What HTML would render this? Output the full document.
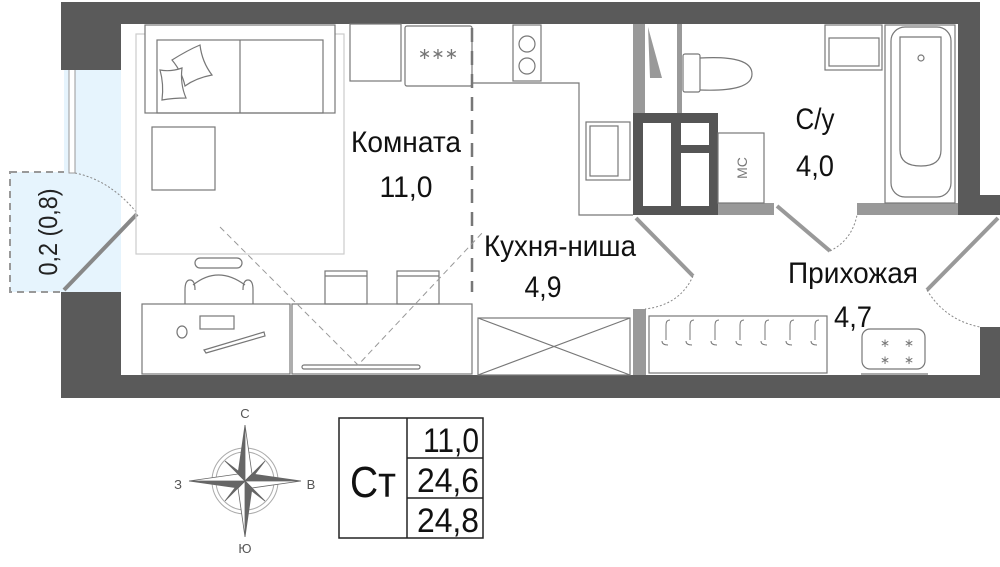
<!DOCTYPE html>
<html><head><meta charset="utf-8"><style>
html,body{margin:0;padding:0;background:#fff;width:1000px;height:567px;overflow:hidden}
svg{display:block}
text{font-family:"Liberation Sans",sans-serif;fill:#111}
</style></head><body>
<svg width="1000" height="567" viewBox="0 0 1000 567" xmlns="http://www.w3.org/2000/svg">
<!-- balcony -->
<rect x="10" y="172" width="55" height="120" fill="#e6f4fd" stroke="#999" stroke-width="2" stroke-dasharray="7,5"/>
<rect x="64" y="66" width="57" height="226" fill="#e6f4fd"/>
<rect x="69" y="63" width="6" height="110" fill="#fff" stroke="#999" stroke-width="1"/>
<path d="M75 173 Q110 180 137 213" fill="none" stroke="#888" stroke-width="1" stroke-dasharray="2,2"/>
<line x1="64" y1="290" x2="137" y2="214" stroke="#888" stroke-width="4"/>
<text transform="translate(57,232) rotate(-90)" text-anchor="middle" font-size="26" textLength="87" lengthAdjust="spacingAndGlyphs" style="fill:#222">0,2 (0,8)</text>

<!-- outer walls -->
<g fill="#5a5a5a">
<rect x="61" y="2" width="919" height="22"/>
<rect x="61" y="2" width="60" height="68"/>
<rect x="61" y="292" width="60" height="106"/>
<rect x="61" y="375" width="939" height="23"/>
<rect x="958" y="2" width="22" height="213"/>
<rect x="958" y="195" width="42" height="20"/>
<rect x="980" y="327" width="20" height="71"/>
</g>

<!-- interior walls -->
<rect x="633" y="24" width="12" height="92" fill="#999"/>
<rect x="677" y="24" width="5" height="90" fill="#999"/>
<path d="M648 27 L662 78 L650 78 Z" fill="#999"/>
<rect x="633" y="113" width="85" height="102" fill="#555"/>
<g fill="#fff"><rect x="643" y="123" width="28" height="71"/><rect x="681" y="123" width="28" height="22"/><rect x="681" y="153" width="28" height="53"/><rect x="643" y="190" width="28" height="16"/></g>
<rect x="718" y="203" width="56" height="12" fill="#999"/>
<rect x="857" y="203" width="101" height="12" fill="#999"/>
<rect x="633" y="309" width="13" height="66" fill="#999"/>
<line x1="636" y1="218" x2="693" y2="276" stroke="#999" stroke-width="4"/>
<line x1="777" y1="206" x2="830" y2="251" stroke="#999" stroke-width="4"/>
<line x1="927" y1="290" x2="998" y2="218" stroke="#999" stroke-width="4"/>
<g fill="none" stroke="#888" stroke-width="1" stroke-dasharray="2,2">
<path d="M693 276 Q680 305 645 309"/>
<path d="M830 251 Q852 240 857 215"/>
<path d="M927 290 Q945 320 980 327"/>
</g>

<!-- dashed divider -->
<line x1="472" y1="28" x2="472" y2="292" stroke="#777" stroke-width="2.5" stroke-dasharray="14,9"/>

<g fill="none" stroke="#777" stroke-width="1.2">
<rect x="136" y="34" width="208" height="220" stroke="#ccc"/>
<rect x="145" y="25" width="190" height="88" fill="#fff"/>
<rect x="157" y="40" width="166" height="73"/>
<line x1="240" y1="40" x2="240" y2="113"/>
<path d="M172 60 Q188 50 200 45 Q202 62 212 75 Q196 78 185 86 Q182 72 172 60 Z" fill="#fff"/>
<path d="M160 70 Q171 72 182 68 Q180 84 186 98 Q173 98 162 100 Q164 84 160 70 Z" fill="#fff"/>
<rect x="152" y="127" width="63" height="63"/>
<rect x="350" y="24" width="51" height="57"/>
<rect x="405" y="26" width="67" height="60" rx="2"/>
<rect x="513" y="25" width="28" height="56"/>
<circle cx="527" cy="44" r="8"/><circle cx="527" cy="66" r="8"/>
<path d="M473 83 H579 V215 H633"/>
<rect x="586" y="122" width="44" height="58"/>
<rect x="590" y="126" width="28" height="50"/>
<rect x="142" y="304" width="148" height="70"/>
<rect x="292" y="304" width="180" height="70"/>
<rect x="200" y="316" width="34" height="13"/>
<path d="M204 350 L264 332 L265 336 L206 353 Z"/>
<ellipse cx="182" cy="332" rx="5" ry="6"/>
<rect x="195" y="258" width="47" height="10" rx="5"/>
<path d="M185 304 V290 Q185 280 190 280 Q195 280 195 290 M193 285 Q218 265 245 285 M243 290 Q243 280 248 280 Q253 280 253 290 V304"/>
<rect x="325" y="271" width="42" height="33"/><line x1="325" y1="276" x2="367" y2="276"/>
<rect x="397" y="271" width="42" height="33"/><line x1="397" y1="276" x2="439" y2="276"/>
<rect x="302" y="365" width="118" height="4" rx="2"/>
<rect x="478" y="318" width="152" height="57"/>
<path d="M478 318 L630 375 M630 318 L478 375"/>
<rect x="649" y="316" width="178" height="57"/>
<rect x="683" y="54" width="17" height="38" rx="2"/>
<path d="M700 58 Q752 55 752 74 Q752 92 700 90"/>
<rect x="825" y="25" width="57" height="45"/>
<rect x="829" y="38" width="50" height="28"/>
<rect x="885" y="25" width="70" height="178"/>
<rect x="891" y="27" width="60" height="170" rx="14"/>
<path d="M900 37 H941 V150 Q941 166 921 166 Q900 166 900 150 Z"/>
<circle cx="921" cy="58" r="3"/>
<rect x="718" y="133" width="46" height="70"/>
<rect x="862" y="329" width="63" height="40" rx="8"/>
<line x1="861" y1="374" x2="928" y2="374"/>
</g>
<g fill="none" stroke="#999" stroke-width="1" stroke-dasharray="6,4">
<path d="M220 227 L358 365 L483 232"/>
</g>
<g fill="none" stroke="#777" stroke-width="1">
<path d="M666 340 v-15 q0-5 4-5 M668 345 q-6 0-6-4"/>
<path d="M690 340 v-15 q0-5 4-5 M692 345 q-6 0-6-4"/>
<path d="M715 340 v-15 q0-5 4-5 M717 345 q-6 0-6-4"/>
<path d="M740 340 v-15 q0-5 4-5 M742 345 q-6 0-6-4"/>
<path d="M765 340 v-15 q0-5 4-5 M767 345 q-6 0-6-4"/>
<path d="M790 340 v-15 q0-5 4-5 M792 345 q-6 0-6-4"/>
<path d="M815 340 v-15 q0-5 4-5 M817 345 q-6 0-6-4"/>
</g>
<text x="438" y="59" text-anchor="middle" font-size="16" style="fill:#777">∗∗∗</text>
<text x="880" y="347" font-size="12" style="fill:#777">∗</text><text x="904" y="347" font-size="12" style="fill:#777">∗</text>
<text x="880" y="364" font-size="12" style="fill:#777">∗</text><text x="904" y="364" font-size="12" style="fill:#777">∗</text>
<text transform="translate(747,168) rotate(-90)" text-anchor="middle" font-size="14" style="fill:#777">МС</text>

<g font-size="30">
<text x="406" y="152" text-anchor="middle" textLength="110" lengthAdjust="spacingAndGlyphs">Комната</text>
<text x="406" y="197" text-anchor="middle" textLength="53" lengthAdjust="spacingAndGlyphs">11,0</text>
<text x="560" y="256" text-anchor="middle" textLength="152" lengthAdjust="spacingAndGlyphs">Кухня-ниша</text>
<text x="543" y="297" text-anchor="middle" textLength="37" lengthAdjust="spacingAndGlyphs">4,9</text>
<text x="815" y="129" text-anchor="middle" textLength="39" lengthAdjust="spacingAndGlyphs">С/у</text>
<text x="815" y="176" text-anchor="middle" textLength="38" lengthAdjust="spacingAndGlyphs">4,0</text>
<text x="853" y="283" text-anchor="middle" textLength="130" lengthAdjust="spacingAndGlyphs">Прихожая</text>
<text x="853" y="327" text-anchor="middle" textLength="38" lengthAdjust="spacingAndGlyphs">4,7</text>
</g>

<g transform="translate(245,481)">
<circle r="33" fill="none" stroke="#aaa" stroke-width="1"/>
<circle r="29" fill="none" stroke="#aaa" stroke-width="1"/>
<g fill="#666" stroke="#666" stroke-width="0.8">
<path d="M0 -56 L-7 -7 L0 0 Z"/><path d="M0 -56 L7 -7 L0 0 Z" fill="#fff"/>
<path d="M56 0 L7 -7 L0 0 Z"/><path d="M56 0 L7 7 L0 0 Z" fill="#fff"/>
<path d="M0 56 L7 7 L0 0 Z"/><path d="M0 56 L-7 7 L0 0 Z" fill="#fff"/>
<path d="M-56 0 L-7 7 L0 0 Z"/><path d="M-56 0 L-7 -7 L0 0 Z" fill="#fff"/>
<path d="M-20 -20 L-3 -7 L0 0 Z"/><path d="M20 -20 L7 -3 L0 0 Z"/>
<path d="M20 20 L3 7 L0 0 Z"/><path d="M-20 20 L-7 3 L0 0 Z"/>
</g>
</g>
<g font-size="13" text-anchor="middle">
<text x="245" y="418" style="fill:#555">С</text>
<text x="245" y="553" style="fill:#555">Ю</text>
<text x="178" y="489" style="fill:#555">З</text>
<text x="311" y="489" style="fill:#555">В</text>
</g>

<g fill="none" stroke="#222" stroke-width="1.5">
<rect x="339" y="418" width="144" height="120"/>
<line x1="407" y1="418" x2="407" y2="538"/>
<line x1="407" y1="458" x2="483" y2="458"/>
<line x1="407" y1="498" x2="483" y2="498"/>
</g>
<text x="373" y="497" text-anchor="middle" font-size="44" textLength="46" lengthAdjust="spacingAndGlyphs">Ст</text>
<g font-size="34" text-anchor="end">
<text x="479" y="452" textLength="56" lengthAdjust="spacingAndGlyphs">11,0</text>
<text x="479" y="492" textLength="62" lengthAdjust="spacingAndGlyphs">24,6</text>
<text x="479" y="532" textLength="62" lengthAdjust="spacingAndGlyphs">24,8</text>
</g>
</svg>
</body></html>
